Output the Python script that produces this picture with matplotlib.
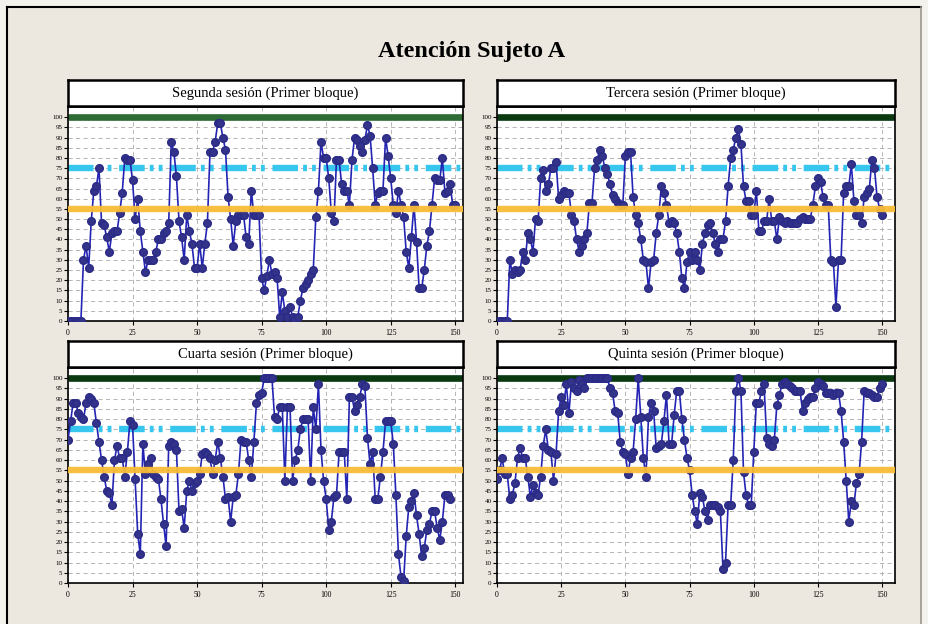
import numpy as np
import matplotlib.pyplot as plt
from matplotlib.lines import Line2D
from matplotlib.patches import Rectangle

plt.rcParams['font.family'] = ['Liberation Serif', 'DejaVu Serif']

titulo = "Atención Sujeto A"
subtitulos = ["Segunda sesión (Primer bloque)", "Tercera sesión (Primer bloque)",
              "Cuarta sesión (Primer bloque)", "Quinta sesión (Primer bloque)"]

segunda = [0, 0, 0, 0, 0, 0, 30, 37, 26, 49, 64, 66, 75, 48, 47, 41, 34, 43, 44, 44,
           53, 63, 80, 79, 79, 69, 50, 60, 44, 34, 24, 30, 30, 30, 34, 40, 40, 43, 44, 48,
           88, 83, 71, 49, 41, 30, 52, 44, 38, 26, 26, 38, 26, 38, 48, 83, 83, 88, 97, 97,
           90, 84, 61, 50, 37, 49, 52, 52, 52, 41, 38, 64, 52, 52, 52, 21, 15, 22, 30, 23,
           24, 21, 2, 14, 5, 2, 7, 2, 1, 2, 10, 16, 18, 20, 23, 25, 51, 64, 88, 80,
           80, 70, 53, 49, 79, 79, 67, 64, 64, 57, 79, 90, 89, 86, 83, 89, 96, 91, 75, 57,
           63, 64, 64, 90, 81, 70, 57, 53, 64, 57, 51, 34, 26, 41, 57, 39, 16, 16, 25, 37,
           44, 57, 70, 69, 69, 80, 63, 64, 67, 57, 57]

tercera = [0, 0, 0, 0, 0, 30, 23, 25, 24, 25, 34, 30, 43, 40, 34, 50, 49, 70, 74, 64,
           67, 75, 75, 78, 60, 62, 64, 63, 63, 52, 49, 40, 34, 37, 40, 43, 58, 58, 75, 79,
           84, 81, 75, 72, 67, 62, 60, 58, 57, 57, 81, 83, 83, 61, 52, 48, 40, 30, 29, 16,
           29, 30, 43, 52, 66, 63, 57, 48, 49, 48, 43, 34, 21, 16, 29, 34, 30, 34, 30, 25,
           38, 43, 47, 48, 43, 38, 34, 40, 40, 49, 66, 80, 84, 90, 94, 87, 66, 59, 59, 52,
           52, 64, 44, 44, 49, 49, 60, 49, 49, 40, 51, 49, 48, 49, 48, 48, 48, 48, 50, 51,
           50, 50, 50, 57, 66, 70, 68, 61, 57, 57, 30, 29, 7, 30, 30, 63, 66, 66, 77, 59,
           52, 52, 48, 61, 63, 65, 79, 75, 61, 55, 52]

cuarta = [70, 79, 88, 88, 83, 81, 80, 88, 91, 90, 88, 78, 69, 60, 52, 45, 44, 38, 60, 67,
          61, 61, 52, 64, 79, 77, 51, 24, 14, 68, 53, 58, 61, 53, 52, 51, 41, 29, 18, 67,
          69, 68, 65, 35, 36, 27, 45, 50, 45, 49, 50, 53, 63, 64, 63, 61, 53, 60, 69, 61,
          52, 41, 42, 30, 42, 43, 53, 70, 69, 69, 60, 52, 69, 88, 92, 93, 100, 100, 100, 100,
          81, 80, 86, 86, 50, 86, 86, 50, 60, 65, 75, 80, 80, 80, 50, 86, 75, 97, 65, 50,
          41, 26, 30, 42, 43, 64, 64, 64, 41, 91, 91, 84, 87, 91, 97, 96, 71, 58, 64, 41,
          41, 52, 64, 79, 79, 79, 68, 43, 14, 3, 1, 23, 37, 40, 44, 33, 24, 13, 17, 26,
          29, 35, 35, 27, 21, 30, 43, 43, 41]

quinta = [51, 55, 61, 53, 53, 41, 43, 49, 61, 66, 61, 61, 52, 42, 48, 44, 43, 52, 67, 75,
          65, 64, 50, 63, 84, 91, 87, 97, 83, 98, 95, 94, 99, 97, 95, 100, 100, 100, 100, 100,
          100, 100, 100, 100, 95, 93, 84, 83, 69, 64, 63, 53, 61, 64, 80, 100, 81, 61, 52, 81,
          88, 84, 66, 67, 68, 79, 92, 68, 68, 82, 94, 94, 80, 70, 61, 55, 43, 35, 29, 44,
          42, 35, 31, 38, 38, 38, 37, 35, 7, 10, 38, 38, 60, 94, 100, 94, 54, 43, 38, 38,
          64, 88, 88, 94, 97, 71, 68, 67, 70, 87, 92, 97, 98, 97, 96, 95, 94, 94, 94, 84,
          88, 90, 91, 91, 95, 98, 97, 96, 93, 93, 93, 92, 93, 93, 84, 69, 50, 30, 40, 38,
          49, 53, 69, 94, 93, 93, 92, 91, 91, 95, 97]

series = [segunda, tercera, cuarta, quinta]
nivel_alto = 100
nivel_medio = 75
nivel_bajo = 55
xticks = [0, 25, 50, 75, 100, 125, 150]
yticks = list(range(0, 101, 5))

W, H = 929, 624
fig = plt.figure(figsize=(9.29, 6.24), dpi=100, facecolor='#f4f2ed')

# fondo y marco
fig.add_artist(Rectangle((7 / W, 0), (921 - 7) / W, 1 - 7 / H, transform=fig.transFigure,
                         facecolor='#ece8df', edgecolor='none', zorder=-5))
fig.add_artist(Line2D([7 / W, 7 / W], [0, 1 - 7 / H], color='black', lw=1.5))
fig.add_artist(Line2D([7 / W, 921 / W], [1 - 7 / H, 1 - 7 / H], color='black', lw=1.5))
fig.add_artist(Line2D([921 / W, 921 / W], [0, 1 - 7 / H], color='#9a968e', lw=1.2))

fig.text(472 / W, 1 - 52 / H, titulo, ha='center', va='center', fontsize=17.5, fontweight='bold')

# (izq, der, arriba, abajo) en pixeles
cajas = [(68, 463, 107, 321), (497, 895, 107, 321), (68, 463, 368, 583), (497, 895, 368, 583)]
verdes = ['#2f6b35', '#0b3a10', '#0b3a10', '#0b3a10']
xmax = [153, 155, 153, 155]

for i, (x0, x1, y0, y1) in enumerate(cajas):
    ax = fig.add_axes([x0 / W, 1 - y1 / H, (x1 - x0) / W, (y1 - y0) / H])
    ax.set_facecolor('white')
    ax.set_xlim(0, xmax[i])
    ax.set_ylim(0, 105)

    ax.axhline(nivel_alto, color=verdes[i], lw=4.8, zorder=2, solid_capstyle='butt')
    ax.axhline(nivel_medio, color='#36c6ee', lw=4.6, zorder=2,
               ls=(0, (4.0, 0.8, 0.6, 0.8, 0.6, 1.2)))
    y = series[i]
    ax.plot(np.arange(len(y)), y, color='#2424b4', lw=1.2, marker='o', ms=5.5,
            mfc='#33338a', mec='#2a2a88', zorder=3)
    ax.axhline(nivel_bajo, color='#f9bc35', lw=4.6, zorder=4, alpha=0.95)

    ax.set_xticks(xticks)
    ax.set_yticks(yticks)
    ax.grid(True, color='#a9a9a9', lw=0.6, ls=(0, (5, 4)), zorder=1)
    ax.tick_params(axis='y', labelsize=5, length=3, width=0.8, pad=1)
    ax.tick_params(axis='x', labelsize=5.5, length=3, width=0.8, pad=3)
    for s in ax.spines.values():
        s.set_linewidth(1.2)

    # caja del subtitulo
    tx = fig.add_axes([x0 / W, 1 - (y0 - 1) / H, (x1 - x0) / W, 26 / H])
    tx.set_facecolor('white')
    tx.set_xticks([])
    tx.set_yticks([])
    for s in tx.spines.values():
        s.set_linewidth(1.8)
    tx.text(0.5, 0.5, subtitulos[i], ha='center', va='center', fontsize=10.5,
            transform=tx.transAxes)

fig.savefig('out.png', dpi=100, facecolor=fig.get_facecolor())
